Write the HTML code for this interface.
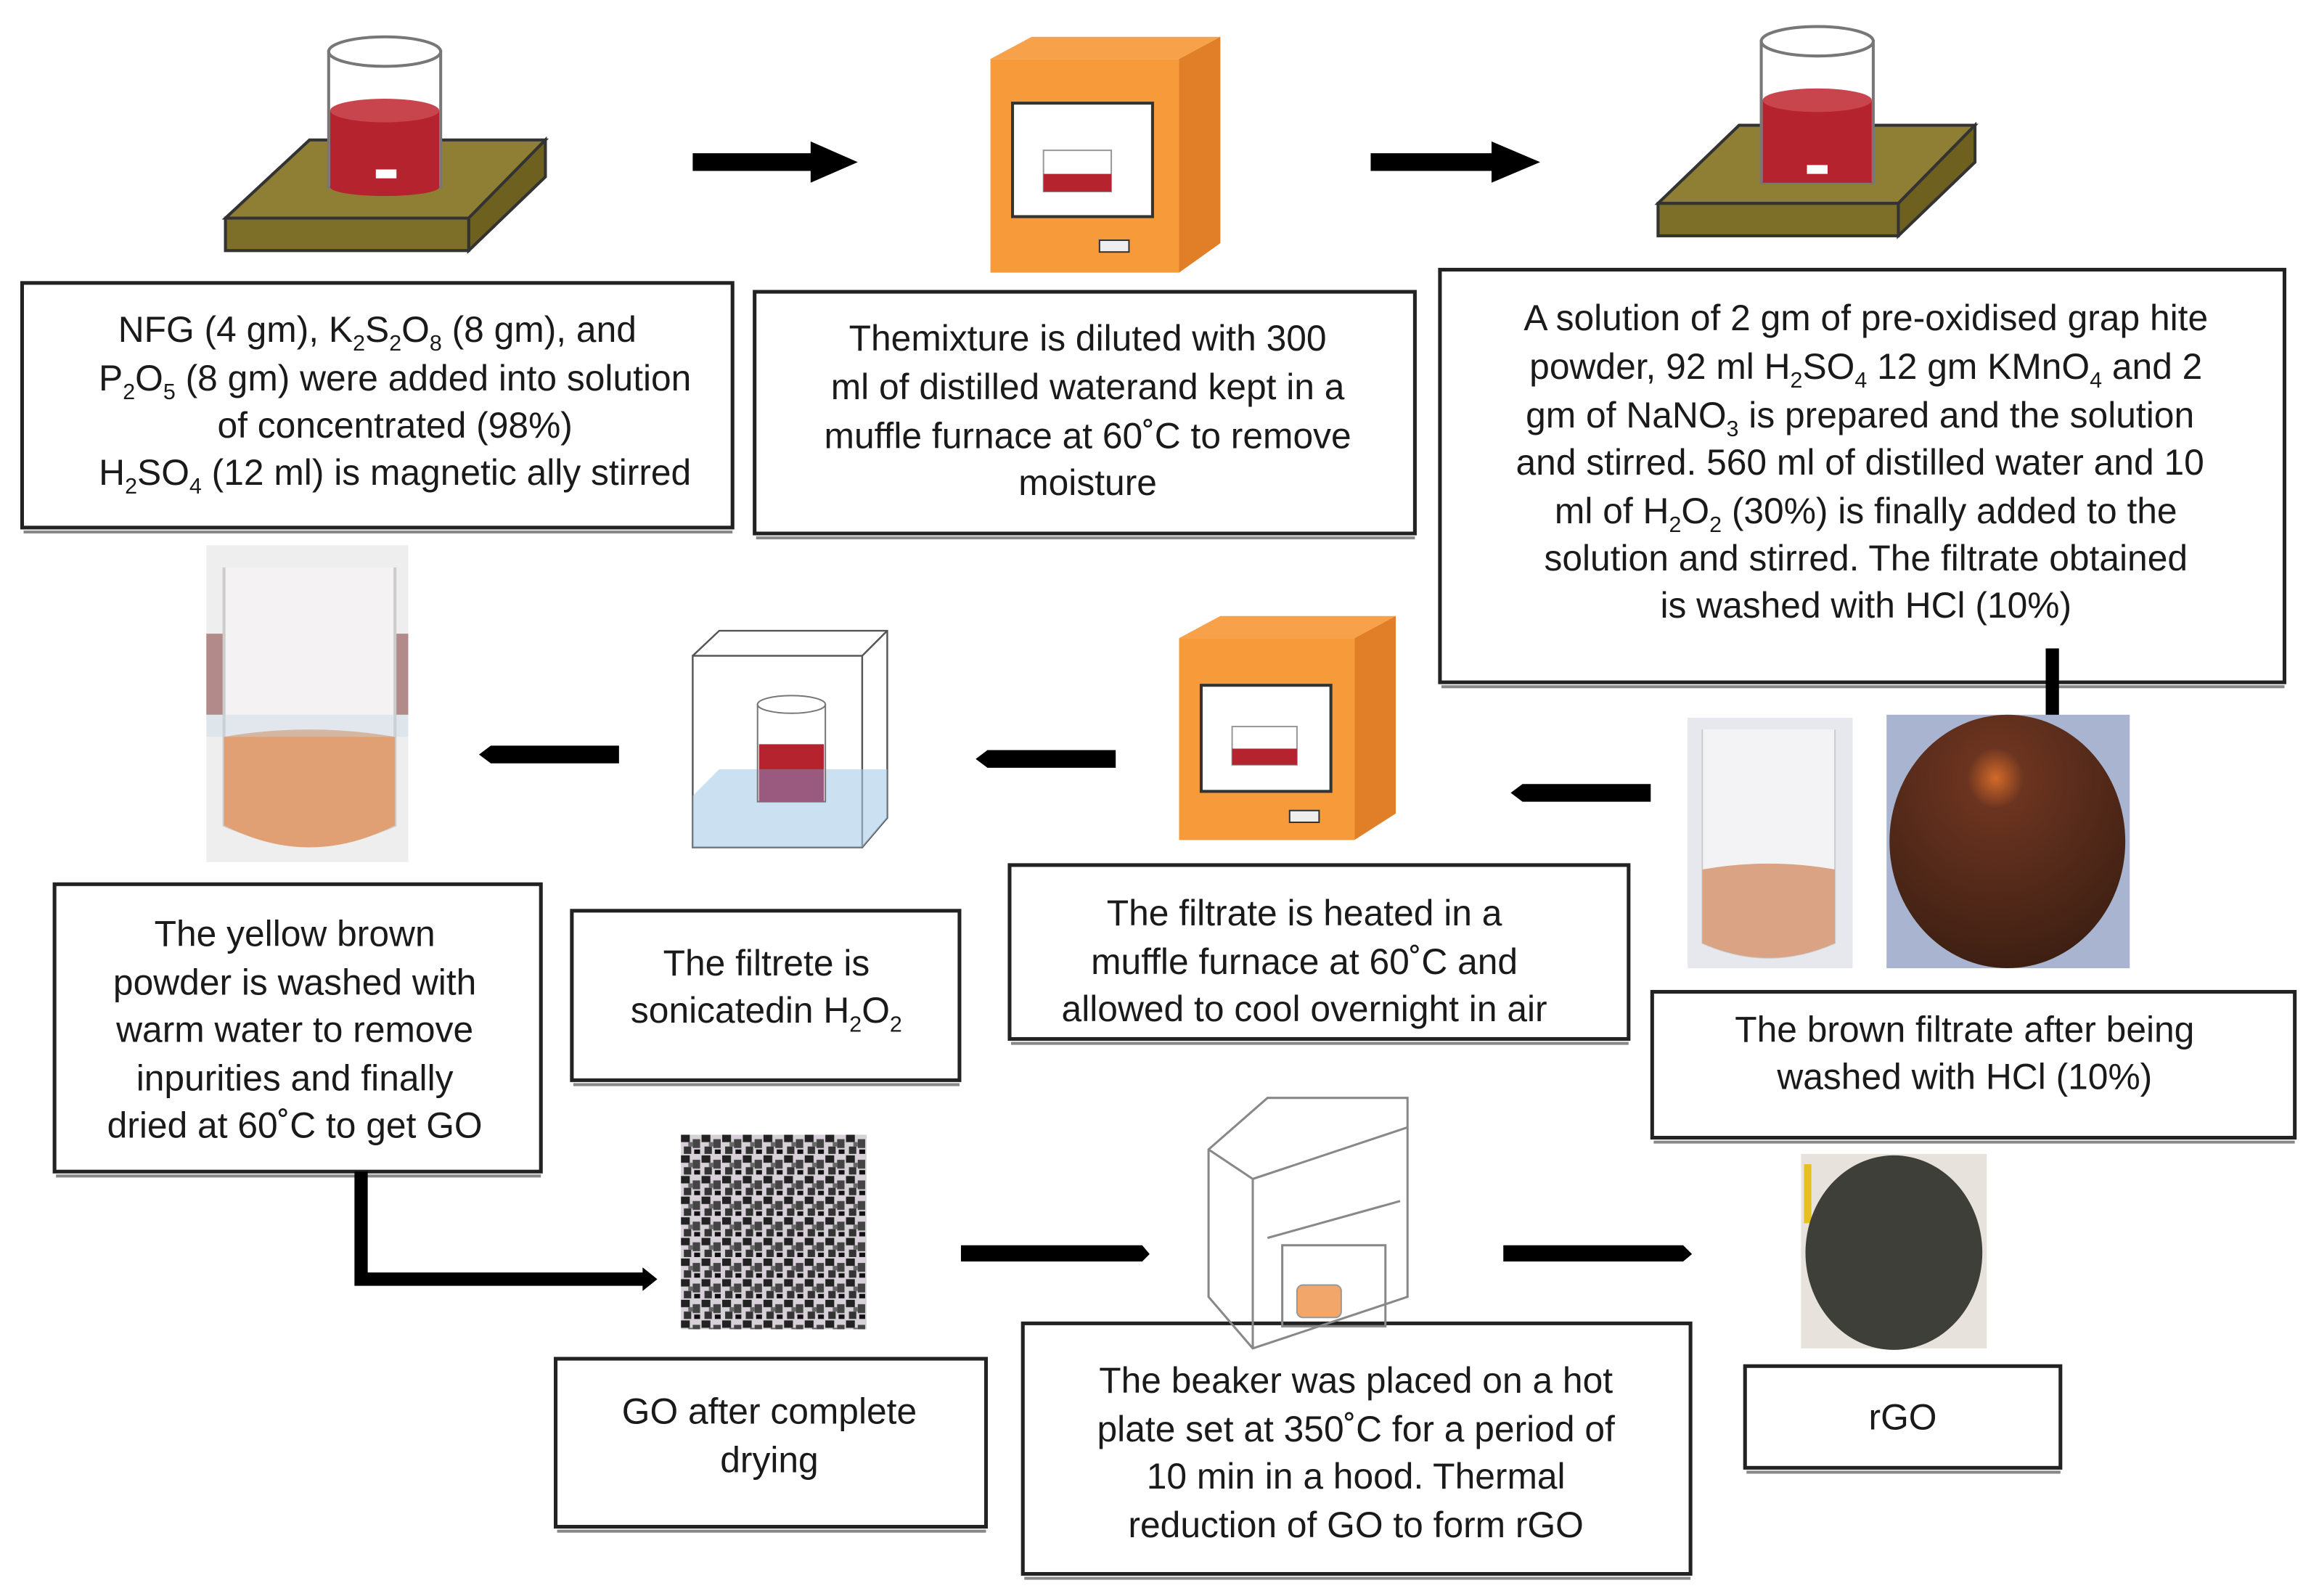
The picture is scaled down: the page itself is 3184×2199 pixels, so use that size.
<!DOCTYPE html>
<html><head><meta charset="utf-8"><style>
html,body{margin:0;padding:0;background:#fff;}
svg{display:block;}
text{font-family:"Liberation Sans",Arial,sans-serif;font-size:24.5px;fill:#1a1a1a;text-anchor:middle;}
.sb{font-size:15px;}
</style></head><body>
<svg width="3184" height="2199" viewBox="0 0 1568 1083" preserveAspectRatio="none" xmlns="http://www.w3.org/2000/svg">
<defs>
<pattern id="noise" width="14" height="14" patternUnits="userSpaceOnUse">
<rect width="14" height="14" fill="#d8d0d8"/>
<rect x="0" y="0" width="6" height="5" fill="#222"/><rect x="8" y="3" width="5" height="6" fill="#444"/>
<rect x="2" y="8" width="5" height="5" fill="#333"/><rect x="9" y="10" width="4" height="3" fill="#111"/>
<rect x="5" y="5" width="3" height="3" fill="#666"/>
</pattern>
<radialGradient id="brown" cx="0.45" cy="0.25" r="0.8"><stop offset="0" stop-color="#d26a2a"/><stop offset="0.15" stop-color="#6b3420"/><stop offset="1" stop-color="#3a1e12"/></radialGradient>
</defs>

<!-- hotplate 1 -->
<g>
<polygon points="153,148 210,95 370,95 370,120 318,170 153,170" fill="#8a7a2e" stroke="#333" stroke-width="2"/>
<polygon points="153,148 210,95 370,95 318,148" fill="#8f7f34" stroke="#333" stroke-width="2"/>
<polygon points="318,148 370,95 370,120 318,170" fill="#6e6120" stroke="#333" stroke-width="2"/>
<rect x="153" y="148" width="165" height="22" fill="#7d6e28" stroke="#333" stroke-width="2"/>
<rect x="223" y="35" width="76" height="92" fill="#fff" stroke="#777" stroke-width="2"/>
<ellipse cx="261" cy="35" rx="38" ry="10" fill="#fff" stroke="#777" stroke-width="2"/>
<rect x="224" y="75" width="74" height="52" fill="#b5232e"/>
<ellipse cx="261" cy="75" rx="37" ry="8" fill="#c9454e"/>
<ellipse cx="261" cy="127" rx="37" ry="6" fill="#b5232e"/>
<rect x="255" y="115" width="14" height="6" fill="#fff"/>
</g>
<!-- arrow 1 -->
<polygon points="470,104 550,104 550,96 582,110 550,124 550,116 470,116" fill="#000"/>
<!-- furnace 1 -->
<g>
<polygon points="672,40 700,25 828,25 800,40" fill="#f7a24a"/>
<polygon points="800,40 828,25 828,165 800,185" fill="#e07f28"/>
<rect x="672" y="40" width="128" height="145" fill="#f79a3a"/>
<rect x="687" y="70" width="95" height="77" fill="#fff" stroke="#333" stroke-width="2"/>
<rect x="708" y="102" width="46" height="28" fill="#fff" stroke="#999"/>
<rect x="708" y="118" width="46" height="12" fill="#b5232e"/>
<rect x="746" y="163" width="20" height="8" fill="#eee" stroke="#333"/>
</g>
<!-- arrow 2 -->
<polygon points="930,104 1012,104 1012,96 1045,110 1012,124 1012,116 930,116" fill="#000"/>
<!-- hotplate 2 -->
<g>
<polygon points="1125,138 1180,85 1340,85 1340,110 1288,160 1125,160" fill="#8a7a2e" stroke="#333" stroke-width="2"/>
<polygon points="1125,138 1180,85 1340,85 1288,138" fill="#8f7f34" stroke="#333" stroke-width="2"/>
<polygon points="1288,138 1340,85 1340,110 1288,160" fill="#6e6120" stroke="#333" stroke-width="2"/>
<rect x="1125" y="138" width="163" height="22" fill="#7d6e28" stroke="#333" stroke-width="2"/>
<rect x="1195" y="28" width="76" height="96" fill="#fff" stroke="#777" stroke-width="2"/>
<ellipse cx="1233" cy="28" rx="38" ry="10" fill="#fff" stroke="#777" stroke-width="2"/>
<rect x="1196" y="68" width="74" height="56" fill="#b5232e"/>
<ellipse cx="1233" cy="68" rx="37" ry="8" fill="#c9454e"/>
<rect x="1226" y="112" width="14" height="6" fill="#fff"/>
</g>

<!-- boxes -->
<g fill="#fff" stroke="#222" stroke-width="2.5">
<rect x="15" y="192" width="482" height="166"/>
<rect x="512" y="198" width="448" height="164"/>
<rect x="977" y="183" width="573" height="280"/>
<rect x="37" y="600" width="330" height="195"/>
<rect x="388" y="618" width="263" height="115"/>
<rect x="685" y="587" width="420" height="118"/>
<rect x="1121" y="673" width="436" height="99"/>
<rect x="377" y="922" width="292" height="114"/>
<rect x="694" y="898" width="453" height="170"/>
<rect x="1184" y="927" width="214" height="69"/>
</g>
<g fill="none" stroke="#888" stroke-width="2">
<line x1="16" y1="361" x2="497" y2="361"/><line x1="513" y1="365" x2="960" y2="365"/>
<line x1="978" y1="466" x2="1550" y2="466"/><line x1="38" y1="798" x2="367" y2="798"/>
<line x1="389" y1="736" x2="651" y2="736"/><line x1="686" y1="708" x2="1105" y2="708"/>
<line x1="1122" y1="775" x2="1557" y2="775"/><line x1="378" y1="1039" x2="669" y2="1039"/>
<line x1="695" y1="1071" x2="1147" y2="1071"/><line x1="1185" y1="999" x2="1398" y2="999"/>
</g>

<!-- box text -->
<text x="256" y="232">NFG (4 gm), K<tspan class="sb" dy="6">2</tspan><tspan dy="-6">S</tspan><tspan class="sb" dy="6">2</tspan><tspan dy="-6">O</tspan><tspan class="sb" dy="6">8</tspan><tspan dy="-6"> (8 gm), and</tspan></text>
<text x="268" y="265">P<tspan class="sb" dy="6">2</tspan><tspan dy="-6">O</tspan><tspan class="sb" dy="6">5</tspan><tspan dy="-6"> (8 gm) were added into solution</tspan></text>
<text x="268" y="297">of concentrated (98%)</text>
<text x="268" y="329">H<tspan class="sb" dy="6">2</tspan><tspan dy="-6">SO</tspan><tspan class="sb" dy="6">4</tspan><tspan dy="-6"> (12 ml) is magnetic ally stirred</tspan></text>

<text x="738" y="238">Themixture is diluted with 300</text>
<text x="738" y="271">ml of distilled waterand kept in a</text>
<text x="738" y="304">muffle furnace at 60˚C to remove</text>
<text x="738" y="336">moisture</text>

<text x="1266" y="224">A solution of 2 gm of pre-oxidised grap hite</text>
<text x="1266" y="257">powder, 92 ml H<tspan class="sb" dy="6">2</tspan><tspan dy="-6">SO</tspan><tspan class="sb" dy="6">4</tspan><tspan dy="-6"> 12 gm KMnO</tspan><tspan class="sb" dy="6">4</tspan><tspan dy="-6"> and 2</tspan></text>
<text x="1262" y="290">gm of NaNO<tspan class="sb" dy="6">3</tspan><tspan dy="-6"> is prepared and the solution</tspan></text>
<text x="1262" y="322">and stirred. 560 ml of distilled water and 10</text>
<text x="1266" y="355">ml of H<tspan class="sb" dy="6">2</tspan><tspan dy="-6">O</tspan><tspan class="sb" dy="6">2</tspan><tspan dy="-6"> (30%) is finally added to the</tspan></text>
<text x="1266" y="387">solution and stirred. The filtrate obtained</text>
<text x="1266" y="419">is washed with HCl (10%)</text>

<text x="200" y="642">The yellow brown</text>
<text x="200" y="675">powder is washed with</text>
<text x="200" y="707">warm water to remove</text>
<text x="200" y="740">inpurities and finally</text>
<text x="200" y="772">dried at 60˚C to get GO</text>

<text x="520" y="662">The filtrete is</text>
<text x="520" y="694">sonicatedin H<tspan class="sb" dy="6">2</tspan><tspan dy="-6">O</tspan><tspan class="sb" dy="6">2</tspan></text>

<text x="885" y="628">The filtrate is heated in a</text>
<text x="885" y="661">muffle furnace at 60˚C and</text>
<text x="885" y="693">allowed to cool overnight in air</text>

<text x="1333" y="707">The brown filtrate after being</text>
<text x="1333" y="739">washed with HCl (10%)</text>

<text x="522" y="966">GO after complete</text>
<text x="522" y="999">drying</text>

<text x="920" y="945">The beaker was placed on a hot</text>
<text x="920" y="978">plate set at 350˚C for a period of</text>
<text x="920" y="1010">10 min in a hood. Thermal</text>
<text x="920" y="1043">reduction of GO to form rGO</text>

<text x="1291" y="970">rGO</text>

<!-- row 2 images -->
<rect x="140" y="370" width="137" height="215" fill="#eeeeee"/>
<rect x="140" y="430" width="137" height="55" fill="#b28a8a"/>
<path d="M152,385 L152,560 Q210,585 268,560 L268,385" fill="#f4f2f2" stroke="#ccc" stroke-width="2"/>
<path d="M152,500 Q210,490 268,500 L268,560 Q210,590 152,560 Z" fill="#e0a074"/>
<rect x="140" y="485" width="137" height="15" fill="#c6d6e6" opacity="0.4"/>

<polygon points="325,512 333,506 420,506 420,518 333,518" fill="#000"/>

<g fill="none" stroke="#555" stroke-width="1.2">
<rect x="470" y="445" width="115" height="130"/>
<polyline points="470,445 488,428 602,428 602,555 585,575"/>
<line x1="585" y1="445" x2="602" y2="428"/>
</g>
<polygon points="470,540 488,522 602,522 602,555 585,575 470,575" fill="#a9cde8" opacity="0.6"/>
<rect x="514" y="478" width="46" height="66" fill="#fff" stroke="#777"/>
<ellipse cx="537" cy="478" rx="23" ry="6" fill="#fff" stroke="#777"/>
<rect x="515" y="505" width="44" height="39" fill="#b5232e"/>
<rect x="515" y="522" width="44" height="22" fill="#9a5a80"/>

<polygon points="662,515 670,509 757,509 757,521 670,521" fill="#000"/>

<g>
<polygon points="800,433 828,418 947,418 919,433" fill="#f7a24a"/>
<polygon points="919,433 947,418 947,552 919,570" fill="#e07f28"/>
<rect x="800" y="433" width="119" height="137" fill="#f79a3a"/>
<rect x="815" y="465" width="88" height="72" fill="#fff" stroke="#333" stroke-width="2"/>
<rect x="836" y="493" width="44" height="26" fill="#fff" stroke="#999"/>
<rect x="836" y="508" width="44" height="11" fill="#b5232e"/>
<rect x="875" y="550" width="20" height="8" fill="#eee" stroke="#333"/>
</g>

<polygon points="1025,538 1033,532 1120,532 1120,544 1033,544" fill="#000"/>
<rect x="1388" y="440" width="9" height="50" fill="#000"/>

<rect x="1145" y="487" width="112" height="170" fill="#e6e8ee"/>
<path d="M1155,495 L1155,640 Q1200,660 1245,640 L1245,495" fill="#f3f3f5" stroke="#ccc"/>
<path d="M1155,590 Q1200,582 1245,590 L1245,640 Q1200,660 1155,640 Z" fill="#d9a384"/>
<rect x="1280" y="485" width="165" height="172" fill="#a8b4d0"/>
<ellipse cx="1362" cy="571" rx="80" ry="86" fill="url(#brown)"/>

<!-- row 3 -->
<polyline points="245,795 245,868 438,868" fill="none" stroke="#000" stroke-width="9"/>
<polygon points="436,860 446,868 436,876" fill="#000"/>
<rect x="462" y="770" width="126" height="132" fill="url(#noise)"/>
<polygon points="652,845 775,845 780,851 775,856 652,856" fill="#000"/>
<g fill="none" stroke="#888" stroke-width="1.5">
<polygon points="820,780 860,745 955,745 955,880 850,915 820,880"/>
<line x1="820" y1="780" x2="850" y2="800"/><line x1="850" y1="800" x2="955" y2="765"/>
<line x1="850" y1="800" x2="850" y2="915"/><line x1="860" y1="840" x2="950" y2="815"/>
<rect x="870" y="845" width="70" height="55"/>
</g>
<rect x="880" y="872" width="30" height="22" rx="4" fill="#f2a66a" stroke="#999"/>
<polygon points="1020,845 1142,845 1148,851 1142,856 1020,856" fill="#000"/>
<rect x="1222" y="783" width="126" height="132" fill="#e8e2dc"/>
<rect x="1224" y="790" width="5" height="40" fill="#e6c020"/>
<ellipse cx="1285" cy="850" rx="60" ry="66" fill="#3e3f38"/>
</svg>
</body></html>
